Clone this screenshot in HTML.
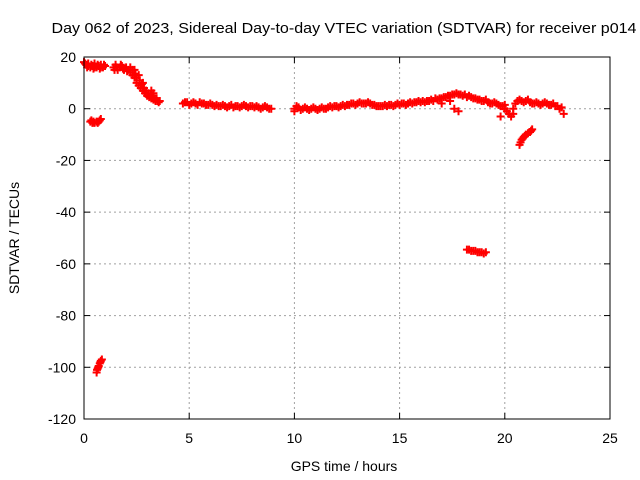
<!DOCTYPE html>
<html><head><meta charset="utf-8"><style>
html,body{margin:0;padding:0;background:#fff}
svg{display:block;font-family:"Liberation Sans",Arial,sans-serif}
</style></head><body>
<svg id="chart" width="640" height="480">
<text x="344" y="33" font-size="15" text-anchor="middle" textLength="585" lengthAdjust="spacingAndGlyphs">Day 062 of 2023, Sidereal Day-to-day VTEC variation (SDTVAR) for receiver p014</text>
<text x="344" y="471" font-size="14" text-anchor="middle">GPS time / hours</text>
<text transform="translate(19,238) rotate(-90)" font-size="14" text-anchor="middle">SDTVAR / TECUs</text>
<g id="grid"></g><g id="ticks"></g><g id="marks"></g>
<rect x="84" y="57" width="526" height="362" fill="none" stroke="#000" stroke-width="1"/>
</svg>
<script>
const xTicks=[0,5,10,15,20,25];
const yTicks=[20,0,-20,-40,-60,-80,-100,-120];
const segTop=[[0,18],[0.05,17.5],[0.1,17],[0.15,16],[0.2,16.5],[0.2,17.5],[0.3,16],[0.35,17],[0.4,16.5],[0.45,15.5],[0.5,16],[0.5,17.5],[0.6,16],[0.65,17],[0.7,16.5],[0.75,15.5],[0.8,16],[0.8,17],[0.9,16],[0.95,17],[1.0,16.5]];
const segLow=[[0.3,-5],[0.35,-4.5],[0.4,-5.5],[0.45,-5],[0.5,-5.5],[0.6,-5],[0.65,-5.5],[0.7,-5],[0.75,-4.5],[0.8,-4]];
const segDeep=[[0.6,-102],[0.62,-101],[0.65,-100.5],[0.68,-100],[0.7,-99.5],[0.75,-98.5],[0.78,-98],[0.8,-97.5],[0.85,-97]];
const segFall=[[1.4,16],[1.45,15],[1.5,17],[1.55,16],[1.6,15],[1.7,16],[1.75,17],[1.8,16.5],[1.85,15.5],[1.9,15],[2.0,16],[2.05,14.5],[2.1,15],[2.2,14],[2.2,16],[2.3,13],[2.3,15],[2.4,12],[2.4,15],[2.45,13.5],[2.5,10],[2.5,12],[2.6,9],[2.6,13],[2.65,11],[2.7,8],[2.75,9.5],[2.8,7],[2.8,10],[2.85,8],[2.9,6],[2.95,7],[3.0,5],[3.05,6],[3.1,4.5],[3.15,5.5],[3.2,4],[3.2,7],[3.25,5],[3.3,3.5],[3.3,6],[3.35,4],[3.4,3],[3.45,4],[3.5,3],[3.55,2.5],[3.6,3]];
const segMorning=[[4.7,2],[4.8,2.5],[4.9,2.5],[5.0,1.5],[5.1,2],[5.2,2.5],[5.3,2],[5.4,1.5],[5.5,2.5],[5.6,2],[5.7,2],[5.8,1.5],[5.9,1.5],[6.0,2],[6.1,1.5],[6.2,1],[6.3,1.5],[6.4,1],[6.5,1],[6.6,1.5],[6.7,1],[6.8,0.5],[6.9,1],[7.0,1.5],[7.1,0.5],[7.2,1],[7.3,1],[7.4,0.5],[7.5,1],[7.6,1.5],[7.7,1],[7.8,0.5],[7.9,1],[8.0,1],[8.1,0.5],[8.2,1],[8.3,0.5],[8.4,0],[8.5,0.5],[8.6,1],[8.7,0.5],[8.8,0],[8.9,0]];
const segMid=[[10.0,0],[10.0,-1],[10.1,1],[10.2,0.5],[10.3,-0.5],[10.4,0],[10.5,0.5],[10.6,0],[10.7,-0.5],[10.8,0],[10.9,0.5],[11.0,0],[11.1,-0.5],[11.2,0],[11.3,0.5],[11.4,0],[11.5,0],[11.6,0.5],[11.7,1],[11.8,0.5],[11.9,1],[12.0,1],[12.1,0.5],[12.2,1],[12.3,1.5],[12.4,1],[12.5,1.5],[12.6,1.5],[12.7,2],[12.8,2],[12.9,1.5],[13.0,2],[13.1,2.5],[13.2,2],[13.3,2],[13.4,2],[13.5,2.5],[13.6,2],[13.7,1.5],[13.8,1.5],[13.9,1],[14.0,1]];
const segAfternoon=[[14.1,1],[14.2,1],[14.3,1.5],[14.4,1],[14.5,1.5],[14.6,1.5],[14.7,1],[14.8,1.5],[14.9,2],[15.0,1.5],[15.1,2],[15.2,2],[15.3,1.5],[15.4,2],[15.5,2.5],[15.6,2],[15.7,2.5],[15.8,2.5],[15.9,3],[16.0,2.5],[16.1,3],[16.2,2.5],[16.3,3],[16.4,3],[16.5,3.5],[16.6,3],[16.7,4],[16.8,3.5],[16.9,4],[17.0,4],[17.0,2],[17.1,4.5],[17.2,4.5],[17.3,5],[17.4,5],[17.4,3],[17.5,5.5],[17.6,5.5],[17.6,0],[17.7,6],[17.8,5.5],[17.8,-1],[17.9,5.5],[18.0,5],[18.1,5.5],[18.2,4.5],[18.3,5],[18.4,4.5],[18.5,4],[18.6,4],[18.7,3.5],[18.8,3.5],[18.9,3],[19.0,3],[19.1,3.5],[19.2,2.5],[19.3,2],[19.4,2],[19.5,2.5],[19.6,2],[19.7,1.5],[19.8,1],[19.8,-3],[19.9,1],[20.0,1.5],[20.0,0]];
const segEvening=[[20.1,-1],[20.2,-2],[20.3,-3],[20.4,-2],[20.4,0],[20.5,2],[20.6,3],[20.7,3.5],[20.8,3],[20.9,2.5],[21.0,3],[21.1,3.5],[21.2,2.5],[21.3,2],[21.4,2],[21.5,2.5],[21.6,2],[21.7,1.5],[21.8,2],[21.9,2.5],[22.0,2],[22.1,1.5],[22.2,1.5],[22.3,2],[22.4,1],[22.5,1],[22.6,0],[22.7,0.5],[22.8,-2]];
const segDip=[[20.7,-14],[20.75,-13],[20.8,-12],[20.85,-11.5],[20.9,-11],[20.95,-10.5],[21.0,-10],[21.1,-9.5],[21.2,-9],[21.25,-8.5],[21.3,-8]];
const segFar=[[18.2,-54.5],[18.3,-54.5],[18.4,-55],[18.5,-55],[18.6,-55],[18.7,-55.5],[18.8,-55.5],[18.9,-55.5],[19.0,-56],[19.1,-55.5]];
const allSegs=[segTop,segLow,segDeep,segFall,segMorning,segMid,segAfternoon,segEvening,segDip,segFar];

const X0=84,X1=610,Y0=419,Y1=57;
const xs=v=>X0+(v-0)/(25-0)*(X1-X0);
const ys=v=>Y0-(v-(-120))/(20-(-120))*(Y0-Y1);
const NS="http://www.w3.org/2000/svg";
const grid=document.getElementById('grid'),ticks=document.getElementById('ticks'),marks=document.getElementById('marks');
function mk(tag,attrs,parent){const e=document.createElementNS(NS,tag);for(const k in attrs)e.setAttribute(k,attrs[k]);parent.appendChild(e);return e;}
xTicks.forEach(t=>{
  const x=xs(t);
  if(t>0&&t<25){const g=mk('line',{x1:x,x2:x,y1:Y1,y2:Y0,stroke:'#a0a0a0','stroke-dasharray':'2,3'},grid);
  
  }
  mk('line',{x1:x,x2:x,y1:Y0,y2:Y0-6,stroke:'#000'},ticks);
  mk('line',{x1:x,x2:x,y1:Y1,y2:Y1+6,stroke:'#000'},ticks);
  const l=mk('text',{x:x,y:Y0+24,'font-size':14,'text-anchor':'middle'},ticks);l.textContent=t;
  
  
});
yTicks.forEach(t=>{
  const y=ys(t);
  if(t>-120&&t<20){const g=mk('line',{x1:X0,x2:X1,y1:y,y2:y,stroke:'#a0a0a0','stroke-dasharray':'2,3'},grid);
  
  }
  mk('line',{x1:X0,x2:X0+6,y1:y,y2:y,stroke:'#000'},ticks);
  mk('line',{x1:X1,x2:X1-6,y1:y,y2:y,stroke:'#000'},ticks);
  const l=mk('text',{x:X0-8,y:y+5,'font-size':14,'text-anchor':'end'},ticks);l.textContent=t;
  
  
});
allSegs.forEach(seg=>seg.forEach(p=>{
  const x=xs(p[0]),y=ys(p[1]);
  const m=mk('path',{d:`M${x-4},${y}H${x+4}M${x},${y-4}V${y+4}`,stroke:'#ff0000','stroke-width':2,fill:'none'},marks);
  
  
}));
</script>
</body></html>
